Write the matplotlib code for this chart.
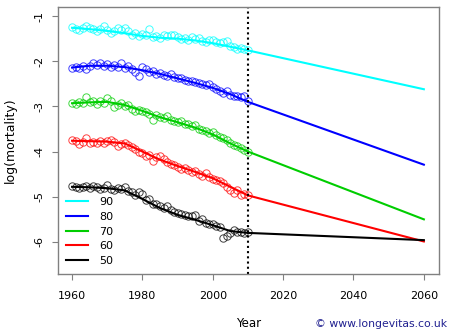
import numpy as np
import matplotlib.pyplot as plt

years = np.arange(1960, 2011)
knot_years = np.arange(1960, 2011, 5)
proj_years = [2010, 2060]

ages = [90, 80, 70, 60, 50]
colors = ['#00ffff', '#0000ff', '#00cd00', '#ff0000', '#000000']

# observed log(mortality), 1960-2010
obs90 = [-1.24, -1.28, -1.31, -1.27, -1.22, -1.26, -1.29, -1.33, -1.28, -1.23,
         -1.31, -1.37, -1.34, -1.27, -1.30, -1.27, -1.33, -1.42, -1.38, -1.44,
         -1.40, -1.43, -1.29, -1.46, -1.44, -1.48, -1.43, -1.45, -1.42, -1.41,
         -1.47, -1.51, -1.48, -1.52, -1.47, -1.51, -1.48, -1.55, -1.58, -1.54,
         -1.52, -1.57, -1.60, -1.57, -1.56, -1.66, -1.69, -1.72, -1.70, -1.73,
         -1.76]
obs80 = [-2.14, -2.12, -2.16, -2.11, -2.17, -2.10, -2.03, -2.09, -2.05, -2.10,
         -2.06, -2.12, -2.08, -2.13, -2.05, -2.14, -2.11, -2.18, -2.23, -2.32,
         -2.13, -2.17, -2.24, -2.21, -2.29, -2.26, -2.30, -2.33, -2.29, -2.35,
         -2.38, -2.37, -2.41, -2.43, -2.44, -2.47, -2.48, -2.51, -2.53, -2.50,
         -2.58, -2.62, -2.65, -2.70, -2.67, -2.74, -2.78, -2.77, -2.80, -2.78,
         -2.88]
obs70 = [-2.93, -2.95, -2.91, -2.92, -2.80, -2.91, -2.89, -2.94, -2.88, -2.93,
         -2.81, -2.89, -3.02, -2.97, -2.93, -2.98, -2.96, -3.06, -3.10, -3.09,
         -3.10, -3.13, -3.16, -3.31, -3.20, -3.23, -3.25, -3.22, -3.29, -3.32,
         -3.34, -3.33, -3.38, -3.40, -3.43, -3.42, -3.49, -3.52, -3.55, -3.58,
         -3.57, -3.63, -3.68, -3.70, -3.75, -3.81, -3.86, -3.88, -3.93, -3.96,
         -4.00]
obs60 = [-3.74, -3.77, -3.83, -3.79, -3.70, -3.82, -3.78, -3.80, -3.76, -3.81,
         -3.77, -3.74, -3.79, -3.88, -3.84, -3.80, -3.85, -3.90, -3.94, -4.00,
         -4.03, -4.10, -4.07, -4.20, -4.12, -4.09, -4.17, -4.24, -4.27, -4.30,
         -4.34, -4.38, -4.36, -4.41, -4.45, -4.43, -4.50, -4.53, -4.48, -4.56,
         -4.60, -4.63, -4.66, -4.70, -4.79, -4.86, -4.92, -4.86, -4.95, -4.93,
         -4.97]
obs50 = [-4.77, -4.78, -4.81, -4.79, -4.76, -4.80, -4.76, -4.79, -4.83, -4.81,
         -4.74, -4.83, -4.84, -4.80, -4.82, -4.79, -4.88, -4.90, -4.95, -4.89,
         -4.93, -5.07, -5.04, -5.16, -5.17, -5.20, -5.24, -5.21, -5.29, -5.33,
         -5.36, -5.38, -5.40, -5.42, -5.43, -5.40, -5.53, -5.50, -5.57, -5.60,
         -5.61, -5.64, -5.68, -5.92, -5.86, -5.80, -5.73, -5.78, -5.79, -5.80,
         -5.79]

# smoothed fit every 5 years
fit90 = [-1.26, -1.29, -1.33, -1.38, -1.44, -1.48, -1.50, -1.54, -1.60, -1.68, -1.76]
fit80 = [-2.14, -2.10, -2.10, -2.13, -2.20, -2.28, -2.38, -2.48, -2.59, -2.73, -2.90]
fit70 = [-2.93, -2.91, -2.90, -2.97, -3.10, -3.24, -3.35, -3.47, -3.62, -3.82, -4.00]
fit60 = [-3.76, -3.77, -3.78, -3.82, -4.00, -4.18, -4.32, -4.45, -4.59, -4.78, -4.97]
fit50 = [-4.78, -4.79, -4.81, -4.86, -5.05, -5.25, -5.40, -5.51, -5.63, -5.76, -5.80]

# projected value in 2060
proj_end = [-2.62, -4.29, -5.50, -5.99, -5.96]

obs = [obs90, obs80, obs70, obs60, obs50]
fits = [fit90, fit80, fit70, fit60, fit50]

fig = plt.figure(figsize=(4.52, 3.34), dpi=100)
ax = fig.add_axes([0.1283, 0.1796, 0.8429, 0.7994])

for age, col, o, f, pe in zip(ages, colors, obs, fits, proj_end):
    ax.plot(years, o, 'o', mfc='none', mec=col, ms=5.3, mew=0.7, alpha=0.75)
    ax.plot(knot_years, f, color=col, lw=1.5, label=str(age))
    ax.plot(proj_years, [f[-1], pe], color=col, lw=1.5)

ax.axvline(2010, color='black', ls=(0, (1, 1.5)), lw=1.5)

ax.set_xlim(1956, 2064.3)
ax.set_ylim(-6.71, -0.80)
ax.set_xticks(np.arange(1960, 2061, 20))
ax.set_yticks([-1, -2, -3, -4, -5, -6])
ax.set_yticklabels(['-1', '-2', '-3', '-4', '-5', '-6'], rotation=90, va='center')

for s in ax.spines.values():
    s.set_color('#808080')
    s.set_linewidth(1.0)
ax.tick_params(colors='#808080', labelcolor='black', length=4.5, width=0.8,
               labelsize=8, pad=5)
ax.tick_params(axis='x', pad=8)

ax.set_xlabel('Year', fontsize=8.5, labelpad=11)
ax.set_ylabel('log(mortality)', fontsize=9, labelpad=13)

ax.legend(loc='lower left', bbox_to_anchor=(0.02, 0.03), frameon=False,
          fontsize=8, handlelength=2.0, handletextpad=1.0, labelspacing=0.42,
          borderpad=0, borderaxespad=0)

fig.text(0.99, 0.015, '\u00a9 www.longevitas.co.uk', color='#202090',
         fontsize=7.8, ha='right', va='bottom')

fig.savefig('out.png', dpi=100)
